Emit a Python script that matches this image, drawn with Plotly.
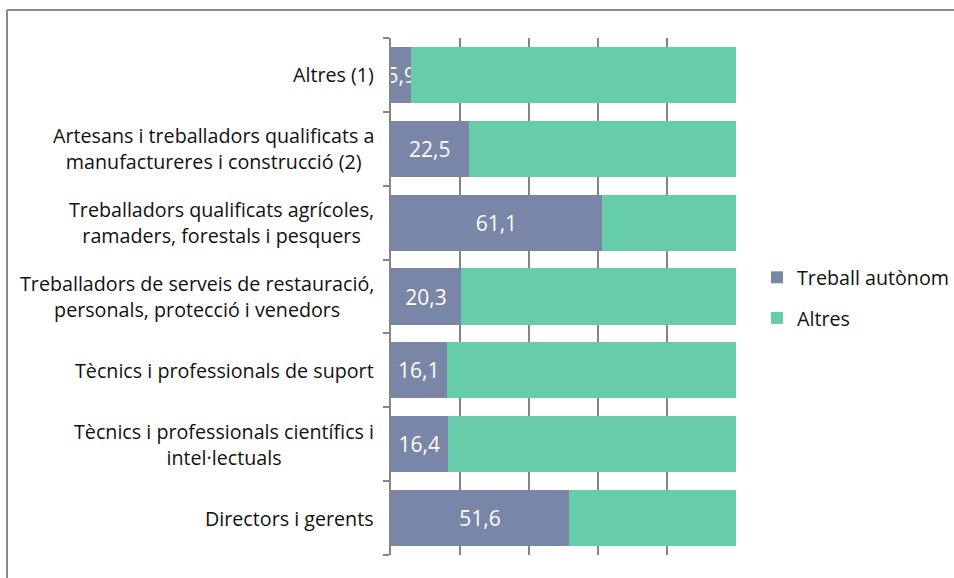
import plotly.graph_objects as go

categories = [
    "Directors i gerents",
    "Tècnics i professionals científics i<br>intel·lectuals",
    "Tècnics i professionals de suport",
    "Treballadors de serveis de restauració,<br>personals, protecció i venedors",
    "Treballadors qualificats agrícoles,<br>ramaders, forestals i pesquers",
    "Artesans i treballadors qualificats a<br>manufactureres i construcció (2)",
    "Altres (1)",
]
treball_autonom = [51.6, 16.4, 16.1, 20.3, 61.1, 22.5, 5.9]
altres = [round(100 - v, 1) for v in treball_autonom]
x_ticks = [0, 20, 40, 60, 80, 100]

FONT = "Open Sans"
FS = 19.7
C_AUT = "#7A86A8"
C_ALT = "#66CCAA"

fig = go.Figure()
fig.add_trace(go.Bar(
    y=categories, x=treball_autonom, orientation="h", name="Treball autònom",
    marker=dict(color=C_AUT, line=dict(width=0)),
    text=[f"{v:.1f}".replace(".", ",") for v in treball_autonom],
    textposition="inside", insidetextanchor="middle", constraintext="none",
    textangle=0, cliponaxis=False,
    textfont=dict(color="white", size=21, family=FONT),
    legendgroup="a", hoverinfo="skip",
))
fig.add_trace(go.Bar(
    y=categories, x=altres, orientation="h", name="Altres",
    marker=dict(color=C_ALT, line=dict(width=0)),
    legendgroup="b", hoverinfo="skip",
))

for c in categories:
    fig.add_annotation(
        x=0, xref="paper", y=c, yref="y", text=c, showarrow=False,
        xanchor="right", xshift=-15, align="center",
        font=dict(size=FS, family=FONT, color="#111111"),
    )

W, H = 954, 578
L, R, T, B = 391, 736, 38, 555
pw, ph = R - L, B - T
def px(x):
    return (x - L) / pw
def py(y):
    return (B - y) / ph

fig.add_shape(type="line", xref="paper", yref="paper",
              x0=px(7), x1=px(1000), y0=py(10), y1=py(10),
              line=dict(color="#8a8a8a", width=2))
fig.add_shape(type="line", xref="paper", yref="paper",
              x0=px(7), x1=px(7), y0=py(10), y1=py(700),
              line=dict(color="#8a8a8a", width=2))

fig.update_layout(
    width=W, height=H,
    margin=dict(l=L, r=W - R, t=T, b=H - B, pad=0, autoexpand=False),
    barmode="stack", bargap=0.24,
    plot_bgcolor="white", paper_bgcolor="white",
    font=dict(family=FONT, size=FS, color="#111111"),
    showlegend=True,
    legend=dict(
        x=px(757), y=py(298), xanchor="left", yanchor="middle",
        traceorder="grouped", tracegroupgap=12,
        font=dict(size=FS, family=FONT, color="#111111"),
        itemwidth=30, bgcolor="rgba(0,0,0,0)", borderwidth=0,
    ),
    xaxis=dict(
        range=[0, 100], tickvals=x_ticks, showticklabels=False,
        showgrid=True, gridcolor="#858585", gridwidth=1.5,
        zeroline=False, showline=False, ticks="",
    ),
    yaxis=dict(
        categoryorder="array", categoryarray=categories,
        showticklabels=False, showgrid=False, zeroline=False,
        showline=True, linecolor="#858585", linewidth=1.5,
        ticks="outside", ticklen=6, tickcolor="#858585", tickwidth=1.5,
        tickson="boundaries",
    ),
)

fig.write_html(
    "out.html",
    config={"displayModeBar": False},
    post_script="document.body.style.margin='0px';document.body.style.overflow='hidden';",
)
